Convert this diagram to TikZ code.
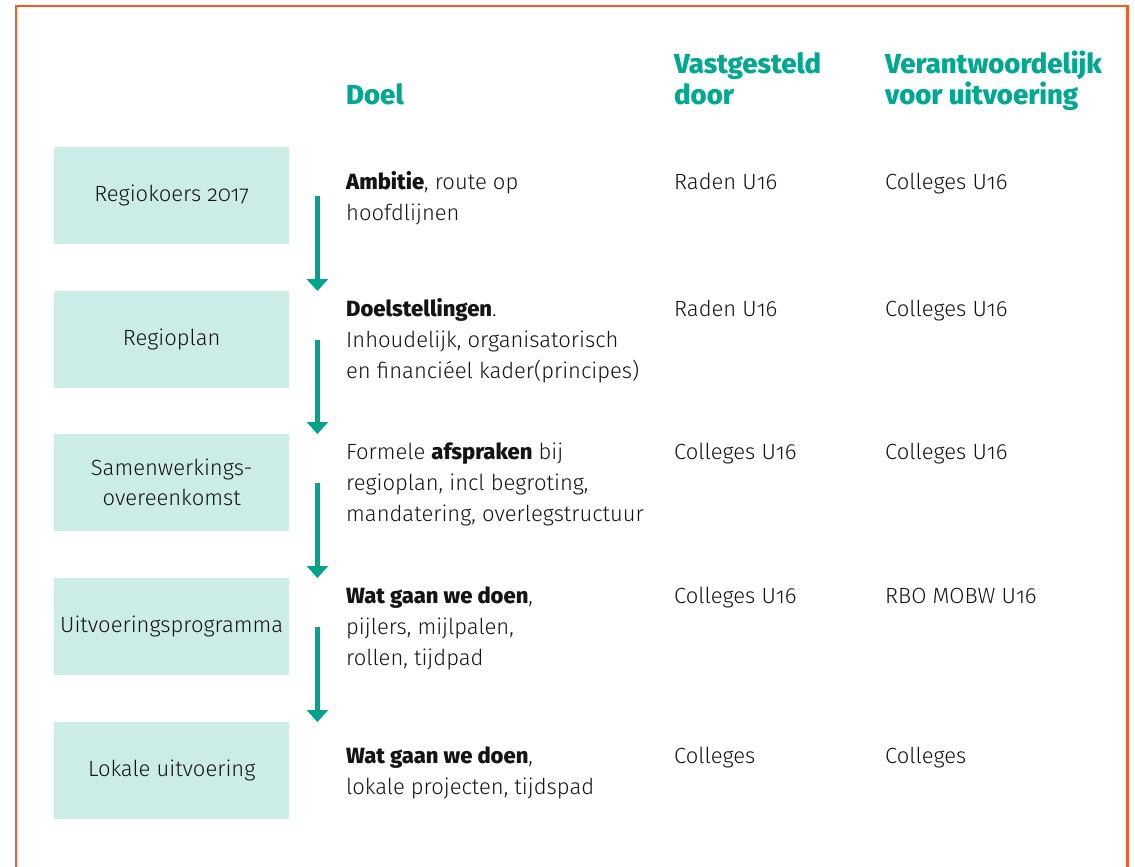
\documentclass[tikz,border=0pt]{standalone}
\usepackage{fontspec}
\setmainfont{Fira Sans}[UprightFont=* Light, BoldFont=* ExtraBold, Numbers=OldStyle]
\newfontfamily\headfont{Fira Sans ExtraBold}[Numbers=OldStyle]
\usetikzlibrary{arrows.meta}
\definecolor{headteal}{HTML}{00A88F}
\definecolor{arrowteal}{HTML}{00A38C}
\definecolor{boxfill}{HTML}{CCECE8}
\definecolor{frameorange}{HTML}{F15A22}
\definecolor{txt}{HTML}{141414}
\begin{document}
\begin{tikzpicture}[x=1pt,y=-1pt,
  stagebox/.style={fill=boxfill, minimum width=235pt, minimum height=97pt, anchor=north west,
    inner sep=0pt, align=center, text=txt, font=\fontsize{22}{30}\selectfont},
  head/.style={anchor=base west, align=left, inner sep=0pt, text=headteal,
    font=\headfont\fontsize{27.5}{31}\selectfont},
  body/.style={anchor=base west, align=left, inner sep=0pt, text=txt,
    font=\fontsize{22}{31}\selectfont},
  flow/.style={draw=arrowteal, line width=4.5pt, -{Triangle[width=21pt,length=12pt]}},
  frame/.style={draw=frameorange, line width=2.6pt}
]
\useasboundingbox (0,0) rectangle (1135,867);
\draw[frame] (16,890) -- (16,6) -- (1127.5,6) -- (1127.5,890);

% headers (base anchor = baseline of the last line)
\node[head] (hdoel) at (346,104) {Doel};
\node[head] (hvast) at (674,104) {Vastgesteld\\door};
\node[head] (hverant) at (885,104) {Verantwoordelijk\\voor uitvoering};

% stage boxes
\node[stagebox] (s1) at (54,147) {Regiokoers 2017};
\node[stagebox] (s2) at (54,291) {Regioplan};
\node[stagebox] (s3) at (54,434) {Samenwerkings-\\overeenkomst};
\node[stagebox] (s4) at (54,578) {Uitvoeringsprogramma};
\node[stagebox] (s5) at (54,722) {Lokale uitvoering};

% arrows
\draw[flow] ([xshift=28pt]s1.east) -- ([xshift=28pt]s2.north east);
\draw[flow] ([xshift=28pt]s2.east) -- ([xshift=28pt]s3.north east);
\draw[flow] ([xshift=28pt]s3.east) -- ([xshift=28pt]s4.north east);
\draw[flow] ([xshift=28pt]s4.east) -- ([xshift=28pt]s5.north east);

% row 1
\node[body] (d1) at (346,220) {\textbf{Ambitie}, route op\\hoofdlijnen};
\node[body] (v1) at (674,189) {Raden U16};
\node[body] (r1) at (885,189) {Colleges U16};
% row 2
\node[body] (d2) at (346,378) {\textbf{Doelstellingen}.\\Inhoudelijk, organisatorisch\\en financiéel kader(principes)};
\node[body] (v2) at (674,316) {Raden U16};
\node[body] (r2) at (885,316) {Colleges U16};
% row 3
\node[body] (d3) at (346,521) {Formele \textbf{afspraken} bij\\regioplan, incl begroting,\\mandatering, overlegstructuur};
\node[body] (v3) at (674,459) {Colleges U16};
\node[body] (r3) at (885,459) {Colleges U16};
% row 4
\node[body] (d4) at (346,665) {\textbf{Wat gaan we doen},\\pijlers, mijlpalen,\\rollen, tijdpad};
\node[body] (v4) at (674,603) {Colleges U16};
\node[body] (r4) at (885,603) {RBO MOBW U16};
% row 5
\node[body] (d5) at (346,794) {\textbf{Wat gaan we doen},\\lokale projecten, tijdspad};
\node[body] (v5) at (674,763) {Colleges};
\node[body] (r5) at (885,763) {Colleges};
\end{tikzpicture}
\end{document}
